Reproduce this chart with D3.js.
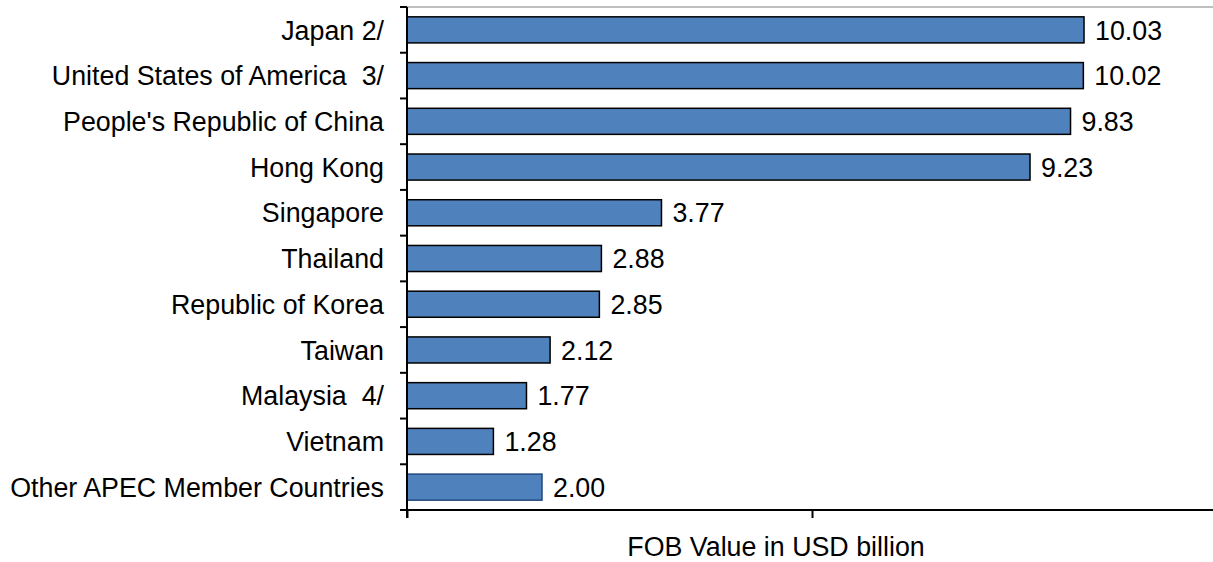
<!DOCTYPE html>
<html>
<head>
<meta charset="utf-8">
<script src="https://cdn.jsdelivr.net/npm/d3@7"></script>
<style>
body{margin:0;background:#fff;}
text{font-family:"Liberation Sans",Arial,sans-serif;fill:#000;}
</style>
</head>
<body>
<script>
// data
var countries = ["Japan 2/","United States of America  3/","People's Republic of China","Hong Kong","Singapore","Thailand","Republic of Korea","Taiwan","Malaysia  4/","Vietnam","Other APEC Member Countries"];
var values = [10.03,10.02,9.83,9.23,3.77,2.88,2.85,2.12,1.77,1.28,2.00];
var xTicks = [0,6,12];

var svgWidth = 1213, svgHeight = 562;
var margin = {top:7, left:407, bottom:52, right:0};
var fontSize = "26.8px";

var svg = d3.select("body").append("svg")
  .attr("width",svgWidth)
  .attr("height",svgHeight);

var x = d3.scaleLinear().domain([0,12]).range([margin.left, 1217]);
var y = d3.scaleBand().domain(countries)
  .range([margin.top, svgHeight - margin.bottom])
  .paddingInner(0.43).paddingOuter(0.215);

var yBottom = svgHeight - margin.bottom;

// top border of plot area
svg.append("line")
  .attr("x1",400).attr("x2",svgWidth)
  .attr("y1",margin.top).attr("y2",margin.top)
  .attr("stroke","#bfbfbf").attr("stroke-width",2);

// bars
svg.selectAll("rect.bar")
  .data(values)
  .enter().append("rect")
  .attr("class","bar")
  .attr("x",x(0))
  .attr("y",(d,i)=>y(countries[i]))
  .attr("width",d=>x(d)-x(0))
  .attr("height",y.bandwidth())
  .attr("fill","#4f81bd")
  .attr("stroke",(d,i)=> i==countries.length-1 ? "#1f497d" : "#000")
  .attr("stroke-width",1.5);

// value labels
svg.selectAll("text.val")
  .data(values)
  .enter().append("text")
  .attr("class","val")
  .attr("x",d=>x(d)+11)
  .attr("y",(d,i)=>y(countries[i])+y.bandwidth()/2)
  .attr("dy","0.36em")
  .style("font-size",fontSize)
  .text(d=>d.toFixed(2));

// category labels
svg.selectAll("text.cat")
  .data(countries)
  .enter().append("text")
  .attr("class","cat")
  .attr("x",384)
  .attr("y",d=>y(d)+y.bandwidth()/2)
  .attr("dy","0.36em")
  .attr("text-anchor","end")
  .style("font-size",fontSize)
  .style("white-space","pre")
  .text(d=>d);

// left axis line + ticks at category boundaries
svg.append("line")
  .attr("x1",x(0)).attr("x2",x(0))
  .attr("y1",margin.top).attr("y2",yBottom+8)
  .attr("stroke","#000").attr("stroke-width",2);
var bounds = d3.range(countries.length+1).map(i=>margin.top + i*y.step());
svg.selectAll("line.ytick")
  .data(bounds)
  .enter().append("line")
  .attr("class","ytick")
  .attr("x1",x(0)-7).attr("x2",x(0))
  .attr("y1",d=>d).attr("y2",d=>d)
  .attr("stroke","#000").attr("stroke-width",2);

// bottom axis
var axisBottom = d3.axisBottom(x).tickValues(xTicks).tickSize(8).tickFormat("");
var gx = svg.append("g")
  .attr("transform",`translate(0,${yBottom})`)
  .call(axisBottom);
gx.select(".domain").attr("stroke","#000").attr("stroke-width",2).attr("d",`M${x(0)},0H${svgWidth}`);
gx.selectAll(".tick line").attr("stroke","#000").attr("stroke-width",2);

// axis title
svg.append("text")
  .attr("x",776).attr("y",556)
  .attr("text-anchor","middle")
  .style("font-size",fontSize)
  .text("FOB Value in USD billion");
</script>
</body>
</html>
